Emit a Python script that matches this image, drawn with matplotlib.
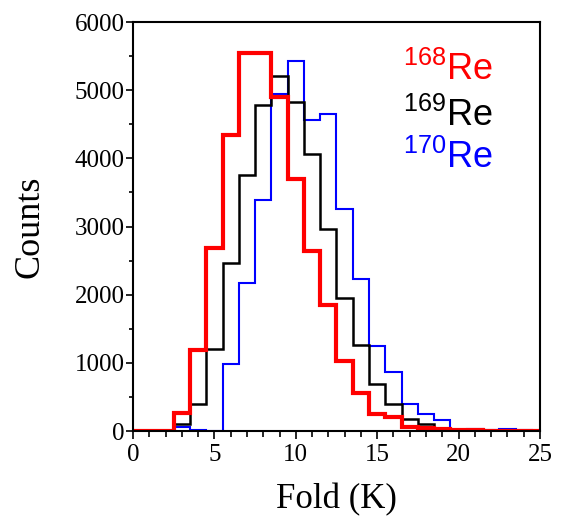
import numpy as np
import matplotlib.pyplot as plt
from matplotlib.ticker import MultipleLocator

plt.rcParams["mathtext.fontset"] = "custom"
plt.rcParams["mathtext.rm"] = "Liberation Sans"

# fold bins (centred on integers 0..25)
fold = np.arange(0, 26)

re168 = [0, 0, 0, 270, 1190, 2680, 4340, 5550, 5540, 4900, 3690, 2640, 1850,
         1030, 560, 245, 210, 60, 40, 30, 10, 10, 5, 5, 5, 0]
re169 = [0, 0, 0, 100, 400, 1200, 2470, 3750, 4790, 5210, 4830, 4060, 2970,
         1955, 1260, 685, 400, 180, 110, 30, 10, 5, 5, 5, 0, 0]
re170 = [0, 0, 0, 55, 10, 0, 980, 2170, 3390, 4940, 5430, 4570, 4650,
         3260, 2225, 1240, 870, 390, 245, 160, 20, 30, 15, 25, 10, 5]

edges = np.append(fold - 0.5, fold[-1] + 0.5)

fig = plt.figure(figsize=(5.64, 5.17), dpi=100)
ax = fig.add_axes([0.2358, 0.1663, 0.7216, 0.7911])

ax.stairs(re170, edges, baseline=None, color="#0000ff", linewidth=1.5)
ax.stairs(re169, edges, baseline=None, color="black", linewidth=1.8)
ax.stairs(re168, edges, baseline=None, color="#ff0000", linewidth=3)

ax.set_xlim(0, 25)
ax.set_ylim(0, 6000)

ax.xaxis.set_major_locator(MultipleLocator(5))
ax.xaxis.set_minor_locator(MultipleLocator(1))
ax.yaxis.set_major_locator(MultipleLocator(1000))
ax.yaxis.set_minor_locator(MultipleLocator(500))

ax.tick_params(which="both", direction="out", width=1.2, top=False, right=False)
ax.tick_params(which="major", length=6)
ax.tick_params(which="minor", length=4)
ax.tick_params(axis="y", which="major", length=5, pad=1)
ax.tick_params(axis="y", which="minor", length=3)

for lab in ax.get_xticklabels() + ax.get_yticklabels():
    lab.set_family("Liberation Serif")
    lab.set_fontsize(18)

for s in ax.spines.values():
    s.set_linewidth(1.5)

ax.set_xlabel("Fold (K)", family="Liberation Serif", fontsize=25, labelpad=12)
ax.set_ylabel("Counts", family="Liberation Serif", fontsize=26, labelpad=20)

names = [r"$^{168}\mathrm{Re}$", r"$^{169}\mathrm{Re}$", r"$^{170}\mathrm{Re}$"]
colors = ["#ff0000", "black", "#0000ff"]
ypos = [0.858, 0.746, 0.643]
for nm, c, y in zip(names, colors, ypos):
    ax.text(0.885, y, nm, transform=ax.transAxes, color=c,
            fontsize=26, ha="right", va="baseline")

fig.savefig("out.png", dpi=100)
